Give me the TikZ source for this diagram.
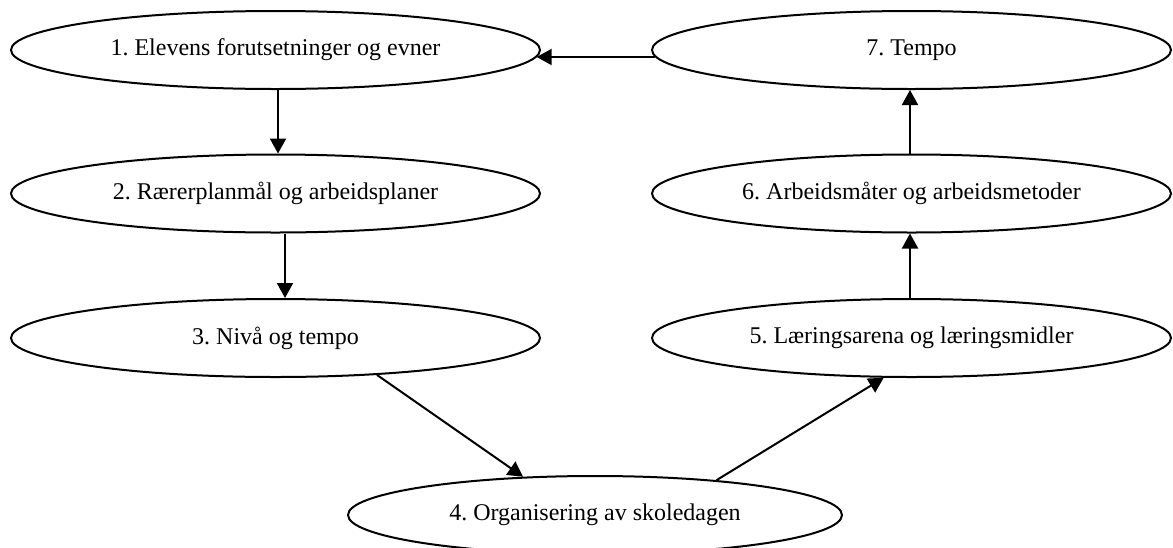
\documentclass[tikz,border=0pt]{standalone}
\usepackage{fontspec}
\setmainfont{Liberation Serif}
\frenchspacing
\usetikzlibrary{shapes}
\usetikzlibrary{arrows.meta}

\begin{document}
\begin{tikzpicture}[x=0.5pt, y=-0.5pt,
		stage/.style={ellipse, draw, line width=1pt, inner sep=0pt,
			minimum width=264.5pt, minimum height=39pt,
			font=\fontsize{12pt}{14pt}\selectfont},
		arr/.style={-{Triangle[length=7.5pt, width=8pt]}, line width=1pt}]
	\useasboundingbox (0, 0) rectangle (1173, 547);

	\node[stage] (e1) at (275.5, 50) {1. Elevens forutsetninger og evner};
	\node[stage] (e2) at (275.5, 193.5) {2. Rærerplanmål og arbeidsplaner};
	\node[stage] (e3) at (275.5, 338) {3. Nivå og tempo};
	\node[stage, minimum width=247pt] (e4) at (595, 515) {4. Organisering av skoledagen};
	\node[stage, minimum width=259.5pt] (e5) at (911.5, 338) {5. Læringsarena og læringsmidler};
	\node[stage, minimum width=259.5pt] (e6) at (911.5, 193.5) {6. Arbeidsmåter og arbeidsmetoder};
	\node[stage, minimum width=259.5pt] (e7) at (911.5, 50) {7. Tempo};

	\draw[arr] ([xshift=1.25pt]e1.south) -- ([xshift=1.25pt]e2.north);
	\draw[arr] ([xshift=4.75pt]e2.south) -- ([xshift=4.75pt]e3.north);
	\draw[arr] (e3.340.5) -- (e4.152.5);
	\draw[arr] (e4.16.8) -- (e5.235.5);
	\draw[arr] ([xshift=-0.75pt]e5.north) -- ([xshift=-0.75pt]e6.south);
	\draw[arr] ([xshift=-0.75pt]e6.north) -- ([xshift=-0.75pt]e7.south);
	\draw[arr] ([xshift=2.1pt, yshift=-3.5pt]e7.west) -- ([xshift=-2.15pt, yshift=-3.5pt]e1.east);
\end{tikzpicture}
\end{document}
